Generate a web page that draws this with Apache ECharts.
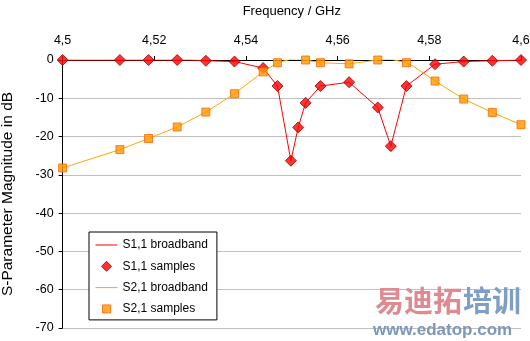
<!DOCTYPE html>
<html>
<head>
<meta charset="utf-8">
<script src="https://cdn.jsdelivr.net/npm/echarts@6/dist/echarts.min.js"></script>
<style>
html,body{margin:0;padding:0;background:#fff;}
#chart{width:530px;height:341px;}
</style>
</head>
<body>
<div id="chart"></div>
<script>
// Sample frequencies (GHz)
var freqSamples = [4.5, 4.5125, 4.51875, 4.525, 4.53125, 4.5375, 4.54375, 4.546875, 4.5498, 4.5514, 4.553, 4.55625, 4.5625, 4.56875, 4.5716, 4.575, 4.58125, 4.5875, 4.59375, 4.6];
var s11Samples = [0, 0, 0, 0, -0.2, -0.4, -2.1, -6.8, -26.3, -17.6, -11.2, -6.8, -5.8, -12.4, -22.5, -6.8, -1.1, -0.4, -0.2, 0];
var s21Samples = [-28.2, -23.4, -20.5, -17.5, -13.6, -8.8, -3.1, -0.7, 0.2, 0.2, 0, -0.7, -1.0, 0, 0.2, -0.7, -5.5, -10.2, -13.7, -16.9];

// Broadband curves
var freqS11Broad = [4.5, 4.528, 4.5283, 4.534, 4.5375, 4.54375, 4.546875, 4.5498, 4.5514, 4.553, 4.55625, 4.5625, 4.56875, 4.5716, 4.575, 4.58125, 4.5875, 4.59375, 4.6];
var s11Broad = [0, 0, -0.2, -0.3, -0.4, -2.1, -6.8, -26.3, -17.6, -11.2, -6.8, -5.8, -12.4, -22.5, -6.8, -1.1, -0.4, -0.2, 0];
var freqS21Broad = [4.5, 4.5125, 4.51875, 4.525, 4.53125, 4.5375, 4.54375, 4.546875, 4.5498, 4.5514, 4.553, 4.55625, 4.5625, 4.56875, 4.5716, 4.575, 4.5765, 4.58125, 4.5875, 4.59375, 4.6];
var s21Broad = [-28.2, -23.4, -20.5, -17.5, -13.6, -8.8, -3.1, -0.7, 0.2, 0.2, 0, -0.7, -1.0, 0, 0.2, -0.7, -1.6, -5.5, -10.2, -13.7, -16.9];

var xTicks = [4.5, 4.52, 4.54, 4.56, 4.58, 4.6];
var yTicks = [0, -10, -20, -30, -40, -50, -60, -70];

function pairs(xs, ys){ return xs.map(function(x,i){ return [x, ys[i]]; }); }

var chart = echarts.init(document.getElementById('chart'), null, {renderer:'canvas'});
var font = 'Liberation Sans, Arial, sans-serif';
var lineIcon = 'path://M0,0 M22,13 M0,6.5 L22,6.5';
var diamondIcon = 'path://M0,0 M22,13 M11,1.5 L16,6.5 L11,11.5 L6,6.5 Z';
var squareIcon = 'path://M0,0 M22,13 M7,2.5 L15,2.5 L15,10.5 L7,10.5 Z';
chart.setOption({
  animation: false,
  backgroundColor: '#ffffff',
  textStyle: {fontFamily: font},
  grid: {left: 62.6, right: 9, top: 60, bottom: 13, containLabel: false, outerBoundsMode: 'none'},
  xAxis: {
    type: 'value', position: 'top',
    min: xTicks[0], max: xTicks[xTicks.length-1], interval: 0.02,
    name: 'Frequency / GHz', nameLocation: 'middle', nameGap: 42,
    nameTextStyle: {color: '#000', fontSize: 13, fontFamily: font},
    axisLine: {show: true, onZero: false, lineStyle: {color: '#000', width: 1}},
    axisTick: {show: true, inside: false, length: 4, lineStyle: {color: '#000'}},
    axisLabel: {color: '#000', fontSize: 12.5, margin: 13, fontFamily: font,
      formatter: function(v){ return String(parseFloat(v.toFixed(3))).replace('.', ','); }},
    splitLine: {show: false}
  },
  yAxis: {
    type: 'value', min: yTicks[yTicks.length-1], max: yTicks[0], interval: 10,
    name: 'S-Parameter Magnitude in dB', nameLocation: 'middle', nameGap: 47, nameRotate: 90,
    nameTextStyle: {color: '#000', fontSize: 15.5, fontFamily: font},
    axisLine: {show: true, onZero: false, lineStyle: {color: '#000', width: 1}},
    axisTick: {show: true, inside: false, length: 4, lineStyle: {color: '#000'}},
    axisLabel: {color: '#000', fontSize: 12.5, margin: 9, fontFamily: font},
    splitLine: {show: true, lineStyle: {color: '#c0c0c0', width: 1}}
  },
  legend: {
    orient: 'vertical', left: 89, top: 232,
    backgroundColor: '#fff', borderColor: '#000', borderWidth: 1, borderRadius: 0,
    padding: [4, 9, 4, 4], itemGap: 5.3, itemWidth: 22, itemHeight: 13,
    textStyle: {color: '#000', fontSize: 12, fontFamily: font},
    data: [
      {name: 'S1,1 broadband', icon: lineIcon, itemStyle: {color: 'none', borderColor: '#ff0000', borderWidth: 1}},
      {name: 'S1,1 samples', icon: diamondIcon, itemStyle: {color: '#ff0000', borderColor: '#990000', borderWidth: 1}},
      {name: 'S2,1 broadband', icon: lineIcon, itemStyle: {color: 'none', borderColor: '#ffa500', borderWidth: 1}},
      {name: 'S2,1 samples', icon: squareIcon, itemStyle: {color: '#ff9900', borderColor: '#ff6600', borderWidth: 1}}
    ]
  },
  series: [
    {name: 'S1,1 broadband', type: 'line', data: pairs(freqS11Broad, s11Broad), showSymbol: false, symbol: 'none',
     lineStyle: {color: '#ff0000', width: 1}, itemStyle: {color: '#ff0000'}, z: 2},
    {name: 'S1,1 samples', type: 'scatter', data: pairs(freqSamples, s11Samples), symbol: 'diamond', symbolSize: 11,
     itemStyle: {color: '#ff0000', borderColor: '#990000', borderWidth: 1}, z: 3},
    {name: 'S2,1 broadband', type: 'line', data: pairs(freqS21Broad, s21Broad), showSymbol: false, symbol: 'none',
     lineStyle: {color: '#ffa500', width: 1}, itemStyle: {color: '#ffa500'}, z: 4},
    {name: 'S2,1 samples', type: 'scatter', data: pairs(freqSamples, s21Samples), symbol: 'rect', symbolSize: 8,
     itemStyle: {color: '#ff9900', borderColor: '#ff6600', borderWidth: 1}, z: 5}
  ],
  graphic: [
    {type: 'text', left: 375, top: 286, z: 100, silent: true,
     style: {text: '易迪拓', fill: '#df8a90', font: 'bold 29px "Noto Sans CJK SC"'}},
    {type: 'text', left: 463, top: 286, z: 100, silent: true,
     style: {text: '培训', fill: '#7f9ec6', font: 'bold 29px "Noto Sans CJK SC"'}},
    {type: 'text', left: 373, top: 322, z: 100, silent: true,
     style: {text: 'www.edatop.com', fill: '#7b97ba', font: 'bold 17px "Liberation Sans"'}}
  ]
});
</script>
</body>
</html>
